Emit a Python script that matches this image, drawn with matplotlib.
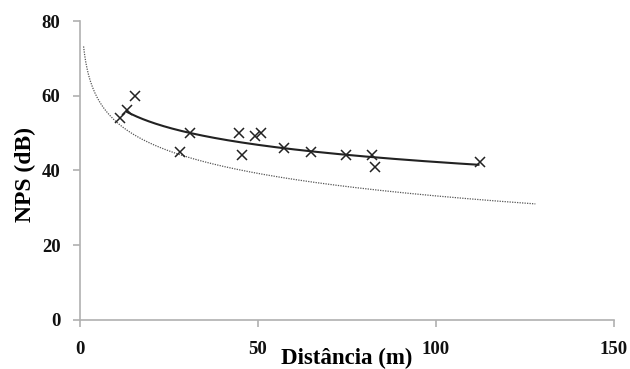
import numpy as np
import matplotlib
matplotlib.use("Agg")
import matplotlib.pyplot as plt

# Measured points (distance m, NPS dB)
dist = [11.3, 13.3, 15.5, 28.1, 30.9, 44.6, 45.5, 49.2, 50.9, 57.4, 64.8, 74.9, 82.1, 83.0, 112.4]
nps = [54.0, 56.2, 59.9, 44.9, 50.0, 49.9, 44.1, 49.1, 50.0, 45.9, 45.0, 44.1, 44.1, 40.9, 42.3]

# Theoretical spherical spreading: L = L_ref - 20 log10(d)
L_ref = 73.2
model_range = [1.0, 128.0]
trend_range = [13.0, 112.0]

xticks = [0, 50, 100, 150]
yticks = [0, 20, 40, 60, 80]

fig = plt.figure(figsize=(6.3, 3.69), dpi=100)
ax = fig.add_axes([0.127, 0.133, 0.847, 0.810])

font = "Liberation Serif"

# dotted theoretical curve
dm = np.linspace(model_range[0], model_range[1], 400)
ax.plot(dm, L_ref - 20 * np.log10(dm), linestyle=(0, (1, 1)), color="#555555", lw=0.9)

# logarithmic trend line fitted to data
b, a = np.polyfit(np.log(dist), nps, 1)
dt = np.linspace(trend_range[0], trend_range[1], 300)
ax.plot(dt, a + b * np.log(dt), color="#222222", lw=1.5)

ax.plot(dist, nps, linestyle="none", marker="x", markersize=7.5, mew=1.1, color="#222222")

ax.set_xlim(0, 150)
ax.set_ylim(0, 80)
ax.set_xticks(xticks)
ax.set_yticks(yticks)
for s in ["top", "right"]:
    ax.spines[s].set_visible(False)
for s in ["left", "bottom"]:
    ax.spines[s].set_color("#b0b0b0")
    ax.spines[s].set_linewidth(1.2)
ax.tick_params(axis="both", direction="out", length=5, width=1.2, color="#b0b0b0")
ax.tick_params(axis="x", pad=10)
ax.tick_params(axis="y", pad=9)
for lab in ax.get_xticklabels() + ax.get_yticklabels():
    lab.set_fontfamily(font)
    lab.set_fontweight("semibold")
    lab.set_fontsize(13.5)
    lab.set_color("#111111")

fig.text(347 / 630, 1 - 364 / 369, "Distância (m)", fontfamily=font, fontweight="bold",
         fontsize=16.5, ha="center", va="baseline")
fig.text(25 / 630, 1 - 174 / 369, "NPS (dB)", fontfamily=font, fontweight="bold",
         fontsize=17, ha="center", va="center", rotation=90)

fig.savefig("out.png", dpi=100)
